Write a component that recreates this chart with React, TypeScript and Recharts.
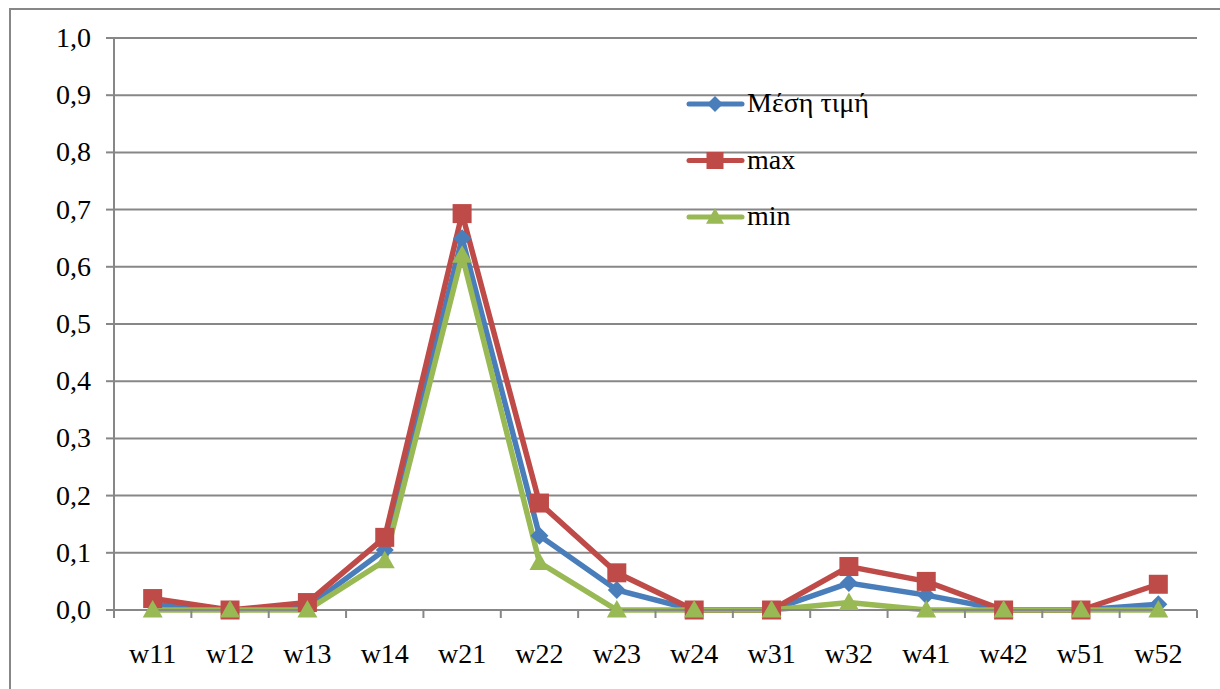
import React from 'react';
import { LineChart, Line, XAxis, YAxis, CartesianGrid } from 'recharts';

const categories = ['w11', 'w12', 'w13', 'w14', 'w21', 'w22', 'w23', 'w24', 'w31', 'w32', 'w41', 'w42', 'w51', 'w52'];
const meanValues = [0.01, 0, 0.005, 0.105, 0.65, 0.13, 0.035, 0, 0, 0.047, 0.026, 0, 0, 0.01];
const maxValues = [0.02, 0, 0.013, 0.127, 0.693, 0.187, 0.065, 0, 0, 0.076, 0.05, 0, 0, 0.045];
const minValues = [0, 0, 0, 0.086, 0.62, 0.083, 0, 0, 0, 0.013, 0, 0, 0, 0];
const yTicks = [0, 0.1, 0.2, 0.3, 0.4, 0.5, 0.6, 0.7, 0.8, 0.9, 1.0];

const BLUE = '#4A7EBB';
const RED = '#BE4B48';
const GREEN = '#98B954';
const GRID = '#878787';
const FONT = 'Liberation Serif, DejaVu Serif, serif';
const FONT_SIZE = 28;
const textStyle = { fontFamily: FONT, fontSize: FONT_SIZE };

const data = categories.map((c, i) => ({
  name: c,
  mean: meanValues[i],
  max: maxValues[i],
  min: minValues[i],
}));

const Diamond = ({ cx, cy, r = 9, fill }: any) =>
  cx == null || cy == null ? null : (
    <path d={`M${cx},${cy - r} L${cx + r},${cy} L${cx},${cy + r} L${cx - r},${cy} Z`} fill={fill} />
  );

const Square = ({ cx, cy, r = 9.5, fill }: any) =>
  cx == null || cy == null ? null : (
    <rect x={cx - r} y={cy - r} width={2 * r} height={2 * r} fill={fill} />
  );

const Triangle = ({ cx, cy, r = 10, fill }: any) =>
  cx == null || cy == null ? null : (
    <path d={`M${cx},${cy - r} L${cx + r},${cy + r * 0.75} L${cx - r},${cy + r * 0.75} Z`} fill={fill} />
  );

// Category labels, with tick marks drawn on the band boundaries rather than the centres
const CategoryTick = (props: any) => {
  const { x, y, payload, index } = props;
  const half = payload && payload.offset ? payload.offset : 0;
  const isLast = index === categories.length - 1;
  return (
    <g>
      <line x1={x - half} x2={x - half} y1={y} y2={y + 8} stroke={GRID} strokeWidth={2} />
      {isLast && <line x1={x + half} x2={x + half} y1={y} y2={y + 8} stroke={GRID} strokeWidth={2} />}
      <text x={x} y={y + 53} textAnchor="middle" style={textStyle} fill="#000">
        {payload.value}
      </text>
    </g>
  );
};

const ValueTick = (props: any) => {
  const { x, y, payload } = props;
  return (
    <g>
      <line x1={x - 8} x2={x} y1={y} y2={y} stroke={GRID} strokeWidth={2} />
      <text x={x - 23} y={y + 9} textAnchor="end" style={textStyle} fill="#000">
        {payload.value.toFixed(1).replace('.', ',')}
      </text>
    </g>
  );
};

const legendItems = [
  { label: 'Μέση τιμή', color: BLUE, Marker: Diamond, r: 8 },
  { label: 'max', color: RED, Marker: Square, r: 8.5 },
  { label: 'min', color: GREEN, Marker: Triangle, r: 9 },
];

const LegendBox = () => (
  <svg width={260} height={150} style={{ position: 'absolute', left: 680, top: 90, overflow: 'visible' }}>
    {legendItems.map((it, i) => {
      const cy = 14 + i * 56.5;
      return (
        <g key={it.label}>
          <line x1={9} x2={62} y1={cy} y2={cy} stroke={it.color} strokeWidth={5} strokeLinecap="round" />
          <it.Marker cx={35} cy={cy} r={it.r} fill={it.color} />
          <text x={67} y={cy + 8} style={textStyle} fill="#000">
            {it.label}
          </text>
        </g>
      );
    })}
  </svg>
);

export default function App() {
  return (
    <div style={{ position: 'absolute', left: 0, top: 0, width: 1220, height: 689, overflow: 'hidden', background: '#fff' }}>
      <div
        style={{
          position: 'absolute',
          left: 9,
          top: 8,
          width: 1230,
          height: 700,
          border: `2px solid ${GRID}`,
          boxSizing: 'border-box',
        }}
      />
      <div style={{ position: 'absolute', left: 0, top: 0 }}>
        <LineChart width={1220} height={689} data={data} margin={{ top: 38, right: 23, bottom: 0, left: 30 }}>
          <CartesianGrid vertical={false} stroke={GRID} strokeWidth={2} strokeOpacity={1} />
          <XAxis
            dataKey="name"
            scale="band"
            axisLine={{ stroke: GRID, strokeWidth: 2 }}
            tickLine={false}
            tickSize={0}
            tickMargin={0}
            tick={<CategoryTick />}
            interval={0}
            height={79}
          />
          <YAxis
            domain={[0, 1]}
            ticks={yTicks}
            axisLine={{ stroke: GRID, strokeWidth: 2 }}
            tickLine={false}
            tickSize={0}
            tickMargin={0}
            tick={<ValueTick />}
            width={84}
            interval={0}
          />
          <Line
            dataKey="mean"
            stroke={BLUE}
            strokeWidth={5.5}
            dot={<Diamond fill={BLUE} r={9} />}
            activeDot={false}
            isAnimationActive={false}
          />
          <Line
            dataKey="max"
            stroke={RED}
            strokeWidth={5.5}
            dot={<Square fill={RED} r={9.5} />}
            activeDot={false}
            isAnimationActive={false}
          />
          <Line
            dataKey="min"
            stroke={GREEN}
            strokeWidth={5.5}
            dot={<Triangle fill={GREEN} r={10} />}
            activeDot={false}
            isAnimationActive={false}
          />
        </LineChart>
      </div>
      <LegendBox />
    </div>
  );
}
